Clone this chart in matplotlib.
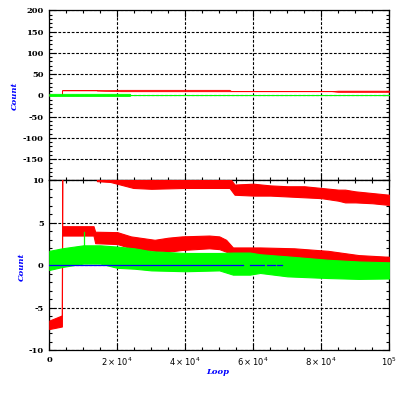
import matplotlib
matplotlib.use("Agg")
import matplotlib.pyplot as plt
from matplotlib.ticker import MultipleLocator, FixedLocator

# ---------------- data ----------------
x_ticks = [0, 20000, 40000, 60000, 80000, 100000]
x_tick_labels = ['0', r'$2\times10^4$', r'$4\times10^4$', r'$6\times10^4$',
                 r'$8\times10^4$', r'$10^5$']
top_y_ticks = [-200, -150, -100, -50, 0, 50, 100, 150, 200]
top_y_labels = ['', '-150', '-100', '-50', '0', '50', '100', '150', '200']
bot_y_ticks = [-10, -5, 0, 5, 10]

# top panel: red summary line (lower / upper envelope)
top_red_x = [0, 3700, 3800, 13900, 14000, 21000, 53000, 53500, 83000, 85000, 100000]
top_red_lo = [0.5, 0.5, 11.5, 11.5, 11.0, 9.5, 9.5, 9.5, 9.5, 8.0, 8.0]
top_red_hi = [1.0, 1.0, 12.5, 12.5, 12.0, 13.0, 13.0, 10.0, 10.0, 11.0, 11.0]
# top panel: green summary line
top_green_x = [0, 23700, 23800, 100000]
top_green_lo = [-1.5, -1.5, 0.3, 0.3]
top_green_hi = [3.5, 3.5, 0.7, 0.7]

# bottom panel: upper red band (starts near -7, jumps at ~3.8e3)
redB_x = [0, 3700, 3800, 13900, 14000, 18000, 24700, 30000, 40000, 45000,
          53000, 54500, 60000, 65000, 70000, 75000, 80000, 85000, 87000,
          90000, 95000, 100000]
redB_lo = [-7.5, -7.2, 11.5, 11.5, 9.9, 9.8, 9.1, 9.0, 9.1, 9.1,
           9.1, 8.3, 8.2, 8.2, 8.1, 8.0, 7.9, 7.6, 7.4, 7.4, 7.3, 7.1]
redB_hi = [-6.5, -5.9, 12.5, 12.5, 10.8, 10.8, 10.3, 10.3, 10.3, 10.4,
           10.3, 9.5, 9.6, 9.4, 9.3, 9.3, 9.1, 8.9, 8.9, 8.7, 8.5, 8.3]

# bottom panel: lower red band
redA_x = [3800, 10000, 13000, 13500, 20000, 24000, 31000, 35000, 39000,
          47000, 50000, 52000, 54000, 59000, 62000, 72000, 82000, 91000, 100000]
redA_lo = [3.5, 3.5, 3.5, 2.6, 2.5, 2.0, 1.7, 1.6, 1.8,
           2.0, 1.9, 1.6, 1.3, 1.3, 1.2, 1.0, 0.6, 0.4, 0.35]
redA_hi = [4.6, 4.6, 4.6, 3.95, 3.9, 3.4, 3.0, 3.25, 3.4,
           3.5, 3.4, 3.0, 2.1, 2.1, 2.1, 2.0, 1.7, 1.2, 1.0]

# bottom panel: green band
green_x = [0, 3800, 10000, 15000, 20000, 25000, 30000, 40000, 50000, 54000,
           59000, 62000, 70000, 82000, 91000, 100000]
green_lo = [-0.55, -0.2, 0.2, 0.2, -0.3, -0.4, -0.6, -0.7, -0.6, -1.1,
            -1.1, -0.9, -1.3, -1.5, -1.6, -1.55]
green_hi = [1.7, 2.0, 2.35, 2.35, 2.2, 2.0, 1.65, 1.45, 1.45, 1.5,
            1.5, 1.3, 1.05, 0.65, 0.45, 0.35]
green_spike_x = [10300, 10300]
green_spike_y = [2.3, 3.9]

# bottom panel: blue reference line segments at 0
blue_segments = [(0, 57000), (59000, 63000), (64000, 66500), (67000, 68500)]
blue_level = 0.0

# ---------------- figure ----------------
RED = '#ff0000'
GREEN = '#00ff00'
BLUE = '#0000ff'
plt.rcParams['font.family'] = ['DejaVu Serif']

fig = plt.figure(figsize=(3.99, 3.99), dpi=100)
L, W = 49.3 / 399, 340 / 399
ax_top = fig.add_axes([L, 1 - 180.3 / 399, W, 170 / 399])
ax_bot = fig.add_axes([L, 1 - 350.3 / 399, W, 170 / 399])

grid_kw = dict(color='black', linestyle=(0, (2.5, 1.5)), linewidth=0.8)

def style(ax, yticks, ymin, ymax, yminor):
    ax.set_xlim(0, 100000)
    ax.set_ylim(ymin, ymax)
    ax.xaxis.set_major_locator(FixedLocator(x_ticks))
    ax.xaxis.set_minor_locator(MultipleLocator(5000))
    ax.yaxis.set_major_locator(FixedLocator(yticks))
    ax.yaxis.set_minor_locator(MultipleLocator(yminor))
    ax.tick_params(which='both', direction='in', top=True, right=True,
                   width=0.8, colors='black')
    ax.tick_params(which='major', length=5)
    ax.tick_params(which='minor', length=2.5)
    ax.tick_params(axis='y', labelsize=6, pad=4)
    ax.tick_params(axis='x', labelsize=6, pad=4)
    for s in ax.spines.values():
        s.set_linewidth(0.9)
    ax.grid(True, which='major', **grid_kw)
    ax.set_axisbelow(True)

# top panel
style(ax_top, top_y_ticks, -200, 200, 10)
ax_top.set_yticklabels(top_y_labels, fontweight='bold')
ax_top.tick_params(axis='x', labelbottom=False)
ax_top.fill_between(top_red_x, top_red_lo, top_red_hi, color=RED,
                    linewidth=0.5, edgecolor=RED, zorder=3)
ax_top.fill_between(top_green_x, top_green_lo, top_green_hi, color=GREEN,
                    linewidth=0.6, edgecolor=GREEN, zorder=3)

# bottom panel
style(ax_bot, bot_y_ticks, -10, 10, 1)
ax_bot.set_yticklabels([str(v) for v in bot_y_ticks], fontweight='bold')
ax_bot.set_xticklabels(x_tick_labels, fontweight='bold')
ax_bot.fill_between(redB_x, redB_lo, redB_hi, color=RED, edgecolor=RED,
                    linewidth=0.8, zorder=3)
ax_bot.fill_between(redA_x, redA_lo, redA_hi, color=RED, edgecolor=RED,
                    linewidth=0.8, zorder=3)
ax_bot.fill_between(green_x, green_lo, green_hi, color=GREEN, edgecolor=GREEN,
                    linewidth=0.8, zorder=4)
ax_bot.plot(green_spike_x, green_spike_y, color=GREEN, linewidth=0.9, zorder=4)
for x0, x1 in blue_segments:
    ax_bot.plot([x0, x1], [blue_level, blue_level], color=BLUE,
                linewidth=0.9, zorder=5)

# axis titles
title_kw = dict(color=BLUE, fontsize=6, fontstyle='italic', fontweight='bold',
                family='DejaVu Serif', ha='center', va='center')
fig.text(15 / 399, 1 - 96 / 399, 'Count', rotation=90, **title_kw)
fig.text(21.7 / 399, 1 - 266.7 / 399, 'Count', rotation=90, **title_kw)
fig.text(218 / 399, 1 - 372 / 399, 'Loop', **title_kw)

fig.savefig('out.png', dpi=100, facecolor='white')
